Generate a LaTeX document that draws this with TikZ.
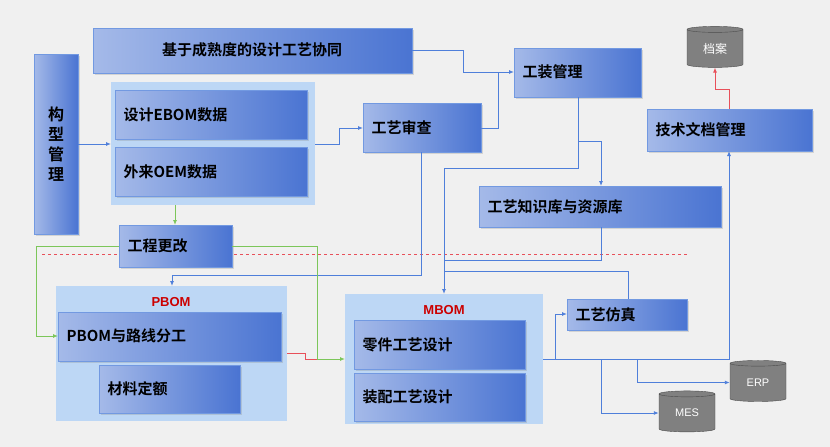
\documentclass[tikz,border=0pt]{standalone}
\usepackage{fontspec}
\newfontfamily\cjk{Noto Sans CJK SC}[BoldFont={Noto Sans CJK SC Bold}]
\setsansfont{Liberation Sans}
\usetikzlibrary{shapes.geometric,arrows.meta,shadows}
\definecolor{bgc}{HTML}{F0F0F0}
\definecolor{grp}{HTML}{BDD7F5}
\definecolor{bl}{HTML}{4A74D2}
\definecolor{ln}{HTML}{4F7FDA}
\definecolor{gr}{HTML}{7CC65A}
\definecolor{rdl}{HTML}{E8505A}
\begin{document}
\begin{tikzpicture}[x=1pt,y=-1pt,
  box/.style={draw=ln!80,line width=0.8pt,left color=bl!50!white,right color=bl,
    drop shadow={opacity=0.25,shadow xshift=1.5pt,shadow yshift=-1.5pt}},
  tx/.style={font=\cjk\bfseries\fontsize{15}{17}\selectfont,text=black},
  db/.style={cylinder,shape border rotate=90,aspect=0.25,draw=black!70,fill=black!50,text=white,
    font=\sffamily\fontsize{11}{12}\selectfont,minimum width=56pt,minimum height=41pt,inner sep=0pt},
  ar/.style={-{Latex[length=5pt,width=4pt]},color=ln,line width=0.9pt},
  pl/.style={color=ln,line width=0.9pt},
  gar/.style={-{Latex[length=5pt,width=4pt]},color=gr,line width=0.9pt},
]
\useasboundingbox (0,0) rectangle (830,447);
\fill[bgc] (0,0) rectangle (830,447);
% groups
\fill[grp] (111,82) rectangle (315,205);
\fill[grp] (56,286) rectangle (287,421);
\fill[grp] (345,294) rectangle (543,424);
\draw[rdl,dashed,line width=0.8pt] (42,254) -- (687,254);
\node[font=\sffamily\bfseries\fontsize{13}{14}\selectfont,text=red!80!black] (pl1) at (171,302) {PBOM};
\node[font=\sffamily\bfseries\fontsize{13}{14}\selectfont,text=red!80!black] (ml1) at (444,310) {MBOM};
% boxes
\path[box] (34,54) rectangle (78,234);
\node[tx,font=\cjk\bfseries\fontsize{16}{20}\selectfont,align=center] (gx) at (56,144) {构\\型\\管\\理};
\coordinate (gxr) at (78,144);
\path[box] (93,28) rectangle (412,73); \node[tx] (jy) at (252,50) {基于成熟度的设计工艺协同};
\path[box] (115,90) rectangle (307,139); \node[tx,anchor=west] (eb) at (120,115) {设计EBOM数据};
\path[box] (115,147) rectangle (307,196); \node[tx,anchor=west] (oem) at (120,172) {外来OEM数据};
\path[box] (119,225) rectangle (232,267); \node[tx,anchor=west] (gc) at (124,246) {工程更改};
\path[box] (58,312) rectangle (281,361); \node[tx,anchor=west] (pb) at (63,336) {PBOM与路线分工};
\path[box] (99,365) rectangle (240,413); \node[tx,anchor=west] (cl) at (104,389) {材料定额};
\path[box] (354,320) rectangle (525,369); \node[tx,anchor=west] (lj) at (359,345) {零件工艺设计};
\path[box] (354,373) rectangle (525,421); \node[tx,anchor=west] (zp) at (359,397) {装配工艺设计};
\path[box] (363,103) rectangle (481,152); \node[tx,anchor=west] (sc) at (368,128) {工艺审查};
\path[box] (514,48) rectangle (641,97); \node[tx,anchor=west] (gz) at (519,72) {工装管理};
\path[box] (479,186) rectangle (721,227); \node[tx,anchor=west] (zs) at (484,207) {工艺知识库与资源库};
\path[box] (647,109) rectangle (812,151); \node[tx,anchor=west] (wd) at (652,130) {技术文档管理};
\path[box] (567,299) rectangle (687,330); \node[tx,anchor=west] (fz) at (572,315) {工艺仿真};
% databases
\node[db,font=\cjk\fontsize{12}{13}\selectfont] (da) at (715,48.5) {档案};
\node[db] (erp) at (758,382.5) {ERP};
\node[db] (mes) at (687,413) {MES};
% coordinates
\coordinate (g1r) at (315,144); \coordinate (sct) at (363,128);
\coordinate (jyr) at (412,50); \coordinate (gzl) at (514,72);
\coordinate (scr) at (481,128); \coordinate (scb) at (421,152);
\coordinate (pgt) at (172,286); \coordinate (gzb) at (578,97);
\coordinate (mgt) at (444,294); \coordinate (zst) at (601,186);
\coordinate (zsb) at (601,227); \coordinate (fzt) at (628,299);
\coordinate (mgr) at (543,359); \coordinate (wdb) at (729,151);
\coordinate (fzl) at (567,314); \coordinate (wdt) at (729,109);
\coordinate (g1b) at (175,205); \coordinate (gct) at (175,225);
\coordinate (gcl) at (119,246); \coordinate (pbl) at (58,336);
\coordinate (gcr) at (232,246); \coordinate (mgl) at (345,359);
\coordinate (pgr) at (287,353);
% connectors
\draw[ar] (gxr) -- (111,144);
\draw[ar] (g1r) -- (339,144) |- (sct);
\draw[ar] (jyr) -- (463,50) |- (gzl);
\draw[pl] (scr) -| (498,72);
\draw[ar] (scb) |- (172,275) -- (pgt);
\draw[ar] (gzb) |- (444,168) -- (mgt);
\draw[ar] (578,141) -| (zst);
\draw[pl] (zsb) |- (444,260);
\draw[pl] (444,271) -| (fzt);
\draw[ar] (mgr) -| (wdb);
\draw[ar] (555,359) |- (fzl);
\draw[ar] (601,359) |- (mes.west);
\draw[ar] (637,359) |- (erp.west);
\draw[-{Latex[length=5pt,width=4pt]},color=rdl,line width=0.9pt] (wdt) |- (715,89) -- (da.south);
\draw[gar] (g1b) -- (gct);
\draw[gar] (gcl) -| (36,336) -- (pbl);
\draw[gar] (gcr) -| (317,359) -- (mgl);
\draw[color=rdl,line width=0.9pt] (pgr) -- (305,353) |- (317,359);
\end{tikzpicture}
\end{document}
